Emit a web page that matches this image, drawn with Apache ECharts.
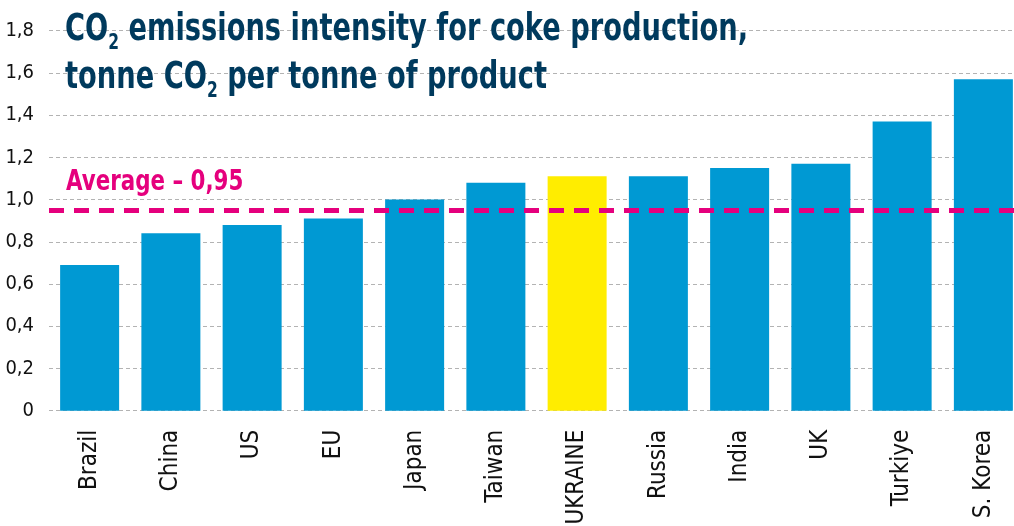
<!DOCTYPE html>
<html>
<head>
<meta charset="utf-8">
<script src="https://cdn.jsdelivr.net/npm/echarts@6/dist/echarts.min.js"></script>
<style>html,body{margin:0;padding:0;background:#fff;}#c{width:1014px;height:526px;}</style>
</head>
<body>
<div id="c"></div>
<script>
const categories = ['Brazil','China','US','EU','Japan','Taiwan','UKRAINE','Russia','India','UK','Turkiye','S. Korea'];
const values = [0.69, 0.84, 0.88, 0.91, 1.00, 1.08, 1.11, 1.11, 1.15, 1.17, 1.37, 1.57];
const highlighted = 'UKRAINE';
const averageValue = 0.95;
const averageLabel = 'Average – 0,95';
const yTicks = { min: 0, max: 1.8, interval: 0.2 };
const titleLines = [['CO', '2', ' emissions intensity for coke production,'], ['tonne CO', '2', ' per tonne of product']];

const FONT = "'DejaVu Sans Condensed', 'Liberation Sans Narrow', sans-serif";
const BLUE = '#0099d3', YELLOW = '#ffed00', NAVY = '#003a5d', MAGENTA = '#e5007d';

const chart = echarts.init(document.getElementById('c'), null, {renderer: 'canvas'});
const titleRich = {
  m: {fontFamily: FONT, fontSize: 37, fontWeight: 'bold', fill: NAVY, lineHeight: 48},
  s: {fontFamily: FONT, fontSize: 21, fontWeight: 'bold', fill: NAVY, lineHeight: 16, verticalAlign: 'bottom'}
};
const titleText = titleLines.map(l => `{m|${l[0]}}{s|${l[1]}}{m|${l[2]}}`).join('\n');

chart.setOption({
  animation: false,
  grid: {left: 49, top: 30.7, width: 975, bottom: 115.3, containLabel: false, outerBoundsMode: 'none'},
  xAxis: {
    type: 'category', data: categories,
    axisLine: {show: false}, axisTick: {show: false},
    axisLabel: {rotate: 90, fontFamily: FONT, fontSize: 24, color: '#111', margin: 19, interval: 0}
  },
  yAxis: {
    type: 'value', min: yTicks.min, max: yTicks.max, interval: yTicks.interval,
    axisLine: {show: false}, axisTick: {show: false},
    axisLabel: {fontFamily: FONT, fontSize: 20, color: '#111', margin: 15,
      formatter: v => v === 0 ? '0' : v.toFixed(1).replace('.', ',')},
    splitLine: {lineStyle: {color: '#b3b3b3', width: 1, type: [4, 3]}}
  },
  series: [{
    type: 'bar', barWidth: 59,
    data: categories.map((c, i) => ({value: values[i], itemStyle: {color: c === highlighted ? YELLOW : BLUE}})),
    markLine: {
      silent: true, symbol: 'none',
      lineStyle: {color: MAGENTA, width: 5, type: [15, 10]},
      label: {show: false},
      data: [{yAxis: averageValue}]
    }
  }]
});

const avgY = chart.convertToPixel({yAxisIndex: 0}, averageValue);
chart.setOption({
  graphic: [
    {type: 'text', x: 65, y: 6, scaleX: 0.82, silent: true,
      style: {text: titleText, rich: titleRich, x: 0, y: 0, verticalAlign: 'top', align: 'left'}},
    {type: 'text', x: 66, y: avgY - 28, scaleX: 0.82, silent: true,
      style: {text: averageLabel, x: 0, y: 0, fontFamily: FONT, fontSize: 29, fontWeight: 'bold',
        fill: MAGENTA, verticalAlign: 'middle', align: 'left'}}
  ]
});
</script>
</body>
</html>
